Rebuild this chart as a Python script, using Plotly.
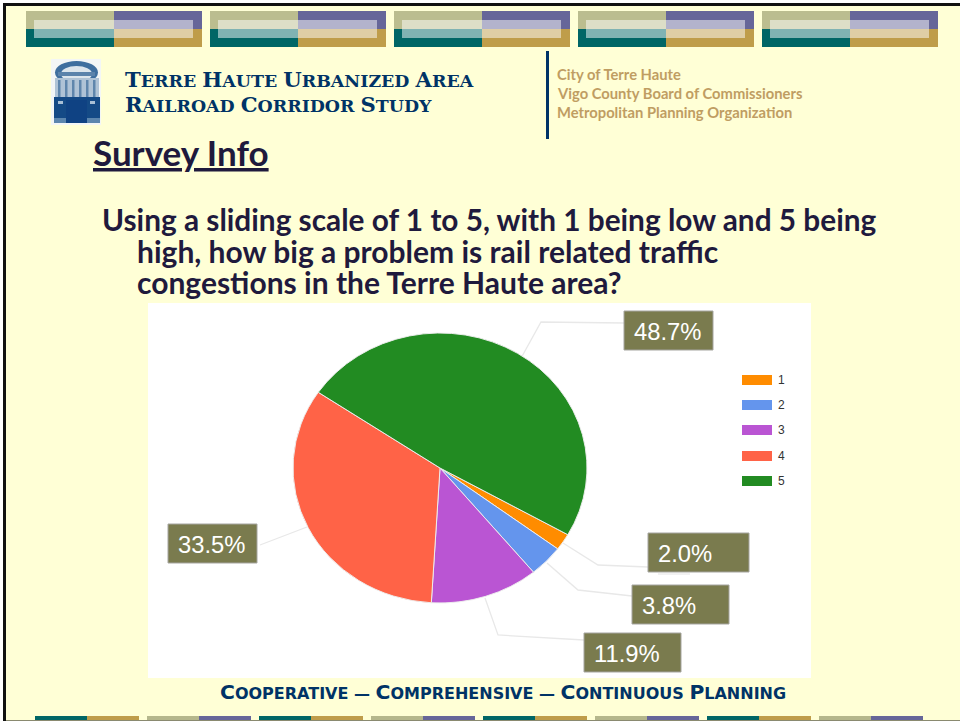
import plotly.graph_objects as go

categories = ["1", "2", "3", "4", "5"]
shares = [2.0, 3.8, 11.9, 33.5, 48.7]
colors = ["#FF8C00", "#6495ED", "#BA55D3", "#FF6347", "#228B22"]
header_lines = ["Terre Haute Urbanized Area", "Railroad Corridor Study"]
agencies = ["City of Terre Haute", "Vigo County Board of Commissioners",
            "Metropolitan Planning Organization"]
question_lines = ["Using a sliding scale of 1 to 5, with 1 being low and 5 being",
                  "high, how big a problem is rail related traffic",
                  "congestions in the Terre Haute area?"]

W, H = 960, 721
BG = "#FFFFD6"
NAVY = "#003366"
INK = "#1F1A3D"
BOX = "#7A7B4E"
PIE_CY = 468
PIE_SQUASH = 270 / 294


def px(x):
    return x / W


def py(y):
    return 1 - y / H


shapes = []
annots = []


def rect(x0, y0, x1, y1, fill, opacity=1, line=None):
    shapes.append(dict(type="rect", xref="paper", yref="paper", layer="below",
                       x0=px(x0), x1=px(x1), y0=py(y1), y1=py(y0),
                       fillcolor=fill, opacity=opacity,
                       line=dict(width=1 if line else 0, color=line or fill)))


def oval(x0, y0, x1, y1, fill):
    shapes.append(dict(type="circle", xref="paper", yref="paper", layer="below",
                       x0=px(x0), x1=px(x1), y0=py(y1), y1=py(y0),
                       fillcolor=fill, line=dict(width=0, color=fill)))


def polyline(points, color="#E8E8E8", width=1.3):
    path = "M " + " L ".join(f"{px(x):.5f},{py(y):.5f}" for x, y in points)
    shapes.append(dict(type="path", xref="paper", yref="paper", layer="below",
                       path=path, line=dict(color=color, width=width)))


def text(x, y, s, size, color, family="Lato", bold=False, xanchor="left"):
    annots.append(dict(xref="paper", yref="paper", x=px(x), y=py(y), text=f"<b>{s}</b>" if bold else s,
                       showarrow=False, xanchor=xanchor, yanchor="middle", align="left",
                       font=dict(size=size, color=color, family=family),
                       borderpad=0, borderwidth=0))


def small_caps(s, big, small):
    out = ""
    for word_i, word in enumerate(s.split(" ")):
        if word_i:
            out += " "
        out += f'<span style="font-size:{big}px">{word[0].upper()}</span>'
        out += f'<span style="font-size:{small}px">{word[1:].upper()}</span>'
    return out


# page
rect(0, 0, W, 3, "#FFFFFF")
rect(0, 0, 3, H, "#FFFFFF")
rect(3, 3, W, 6, "#111111")
rect(3, 3, 6, H, "#111111")

# top banners
for left in [26, 210, 394, 578, 762]:
    rect(left, 11, left + 88, 29, "#BBBD8F")
    rect(left + 88, 11, left + 176, 29, "#666699")
    rect(left, 29, left + 88, 47, "#006666")
    rect(left + 88, 29, left + 176, 47, "#BF9D4A")
    rect(left + 8, 20, left + 167, 38, "#FFFFFF", opacity=0.5)

# bottom strips
for i, left in enumerate([35, 147, 259, 371, 483, 595, 707, 819]):
    a, b = (("#006666", "#BF9D4A") if i % 2 == 0 else ("#B5B78C", "#666699"))
    rect(left, 716, left + 52, 721, a)
    rect(left + 52, 716, left + 104, 721, b)
rect(6, 720, W, 721, "#8A8A70")

# locomotive emblem
rect(51, 59, 101, 125, "#F3F6F6")
oval(55, 61, 98, 84, "#3F6F9F")
oval(61, 66, 92, 82, "#DCE5EC")
rect(58, 72, 95, 76, "#5B83AB")
rect(55, 78, 99, 98, "#AFC3D6")
for x in [58, 65, 72, 79, 86, 93]:
    rect(x, 80, x + 2.5, 97, "#5F86AC")
rect(54, 97, 100, 118, "#144A86")
rect(66, 100, 87, 123, "#0F4283")
rect(54, 118, 66, 123, "#5C86AE")
rect(87, 118, 100, 123, "#5C86AE")
rect(58, 101, 63, 104, "#A9C0D6")
rect(90, 101, 95, 104, "#A9C0D6")

# header
text(125, 80, small_caps(header_lines[0], 21.2, 17.4), 17.4, NAVY, "DejaVu Serif", True)
text(125, 105, small_caps(header_lines[1], 21.2, 17.4), 17.4, NAVY, "DejaVu Serif", True)
rect(546, 51, 549, 139, NAVY)
for y, s in zip([74.5, 93.5, 112.5], agencies):
    text(557, y, s, 14.75, "#BF9D62", "Lato", True)

# titles
text(93, 151.5, "<u>Survey Info</u>", 35, INK, "Lato", True)
for x, y, s, size in zip([102, 137, 137], [220, 251, 282], question_lines, [29.8, 30, 30]):
    text(x, y, s, size, INK, "Lato", True)

# chart panel
rect(148, 303, 811, 678, "#FFFFFF")

# leader lines
polyline([(520, 360), (541, 322), (624, 323)])
polyline([(563, 543), (598, 565), (648, 567)])
polyline([(547, 563), (578, 590), (632, 596)])
polyline([(485, 598), (498, 635), (584, 640)])
polyline([(260, 545), (307, 527)])
rect(658, 573, 690, 575, "#F1F1F1")

# value boxes
boxes = {0: (648, 533, 749, 572), 1: (632, 585, 729, 624), 2: (584, 633, 681, 672),
         3: (168, 524, 257, 563), 4: (624, 311, 713, 350)}
for i, (x0, y0, x1, y1) in boxes.items():
    rect(x0, y0, x1, y1, BOX, line="#A5A5A0")
    text(x0 + 10, (y0 + y1) / 2 + 1, f"{shares[i]:.1f}%", 23.8, "#FFFFFF", "Liberation Sans")

# legend
for cat, col, y in zip(categories, colors, [380, 405, 430, 456, 481]):
    rect(742, y - 5, 772, y + 5, col)
    text(778, y, cat, 12, "#333333", "Liberation Sans")

# footer
footer = " — ".join(small_caps(w, 20.3, 16) for w in ["Cooperative", "Comprehensive", "Continuous Planning"])
text(503, 692, footer, 16, NAVY, "DejaVu Sans", True, xanchor="center")

fig = go.Figure(go.Pie(
    labels=categories, values=shares, sort=False, direction="clockwise", rotation=119.6,
    marker=dict(colors=colors, line=dict(color="#EDEDED", width=1)),
    textinfo="none", hoverinfo="label+percent", showlegend=False,
    domain=dict(x=[px(293), px(587)], y=[py(PIE_CY + 147), py(PIE_CY - 147)]),
))
fig.update_layout(width=W, height=H, autosize=False, margin=dict(l=0, r=0, t=0, b=0),
                  paper_bgcolor=BG, plot_bgcolor=BG, shapes=shapes, annotations=annots)
# the reference pie is a stretched picture, slightly wider than tall
squash = (f"document.body.style.margin='0';document.body.style.overflow='hidden';"
          f"document.querySelectorAll('.pielayer').forEach(function(g){{"
          f"g.setAttribute('transform','translate(0,{PIE_CY}) scale(1,{PIE_SQUASH:.4f}) translate(0,-{PIE_CY})');}});")
fig.write_html("out.html", config={"displayModeBar": False}, post_script=squash)
